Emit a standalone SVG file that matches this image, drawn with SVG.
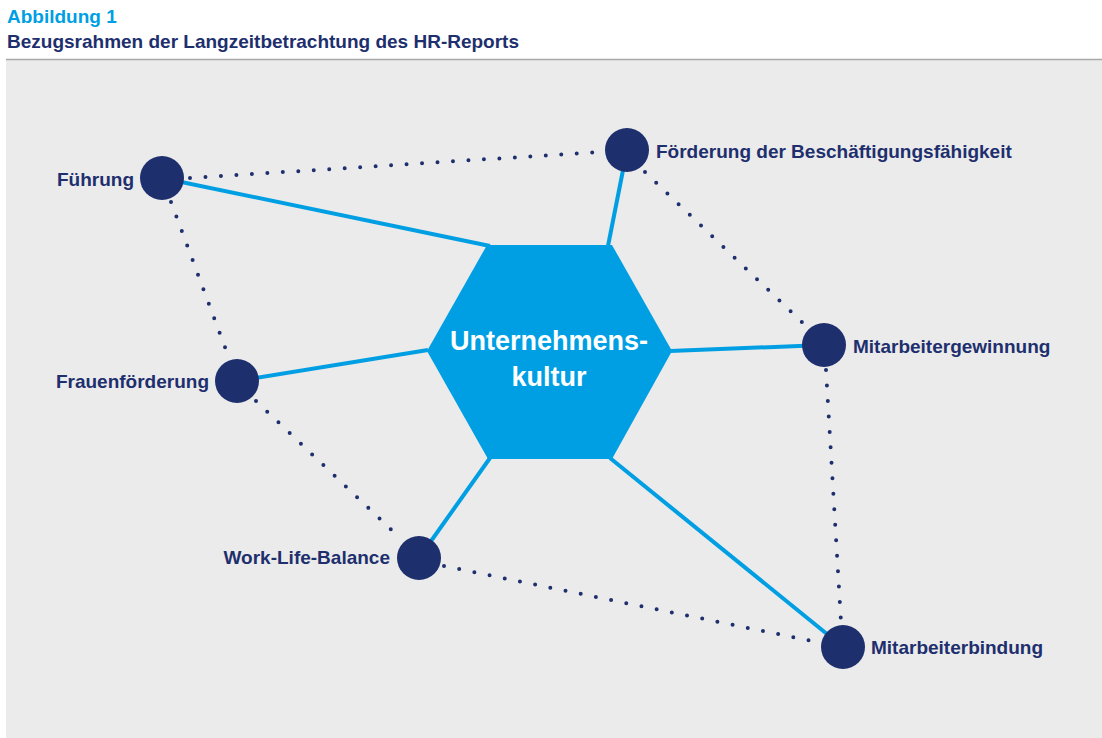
<svg xmlns="http://www.w3.org/2000/svg" width="1102" height="738" viewBox="0 0 1102 738">
<style>
.lbl{font-family:"Liberation Sans",Arial,sans-serif;font-weight:bold;font-size:19px;fill:#1e2f6e}
.node{fill:#1e2f6e}
.solid{stroke:#009fe3;stroke-width:4;fill:none}
.dot{stroke:#1e2f6e;stroke-width:4;stroke-linecap:round;stroke-dasharray:0 15.5;fill:none}
</style>
<rect x="0" y="0" width="1102" height="738" fill="#ffffff"/>
<rect x="6" y="60" width="1096" height="678" fill="#ebebeb"/>
<line x1="6" y1="59.5" x2="1102" y2="59.5" stroke="#a9a9a9" stroke-width="1.5"/>
<text x="7" y="23" font-family="Liberation Sans,Arial,sans-serif" font-weight="bold" font-size="19" fill="#009fe3">Abbildung 1</text>
<text x="7" y="48" class="lbl" font-size="18.5">Bezugsrahmen der Langzeitbetrachtung des HR-Reports</text>
<g id="connectors">
<line class="solid" x1="162" y1="178" x2="490" y2="246"/>
<line class="solid" x1="627" y1="150" x2="608" y2="246"/>
<line class="solid" x1="824" y1="345" x2="670" y2="351"/>
<line class="solid" x1="237" y1="381" x2="428" y2="350"/>
<line class="solid" x1="419" y1="558" x2="490" y2="458"/>
<line class="solid" x1="843" y1="647" x2="610" y2="458"/>
<line class="dot" x1="190" y1="178" x2="600" y2="152"/>
<line class="dot" x1="171" y1="202" x2="229" y2="358"/>
<line class="dot" x1="256" y1="401" x2="400" y2="538"/>
<line class="dot" x1="444" y1="566" x2="817" y2="642"/>
<line class="dot" x1="645" y1="172" x2="806" y2="326"/>
<line class="dot" x1="826" y1="370" x2="841" y2="622"/>
</g>
<g id="hub">
<polygon points="487,245 612,245 672,351 612,459 488,459 427,351" fill="#009fe3"/>
<text x="549" y="350" text-anchor="middle" font-family="Liberation Sans,Arial,sans-serif" font-weight="bold" font-size="27" fill="#ffffff">Unternehmens-</text>
<text x="549" y="386" text-anchor="middle" font-family="Liberation Sans,Arial,sans-serif" font-weight="bold" font-size="27" fill="#ffffff">kultur</text>
</g>
<g id="n-fuehrung"><circle class="node" cx="162" cy="178" r="22"/><text class="lbl" x="134" y="186" text-anchor="end">Führung</text></g>
<g id="n-foerderung"><circle class="node" cx="627" cy="150" r="22"/><text class="lbl" x="656" y="158">Förderung der Beschäftigungsfähigkeit</text></g>
<g id="n-gewinnung"><circle class="node" cx="824" cy="345" r="22"/><text class="lbl" x="853" y="353">Mitarbeitergewinnung</text></g>
<g id="n-frauen"><circle class="node" cx="237" cy="381" r="22"/><text class="lbl" x="209" y="388" text-anchor="end">Frauenförderung</text></g>
<g id="n-wlb"><circle class="node" cx="419" cy="558" r="22"/><text class="lbl" x="390" y="564" text-anchor="end">Work-Life-Balance</text></g>
<g id="n-bindung"><circle class="node" cx="843" cy="647" r="22"/><text class="lbl" x="871" y="654">Mitarbeiterbindung</text></g>
</svg>
